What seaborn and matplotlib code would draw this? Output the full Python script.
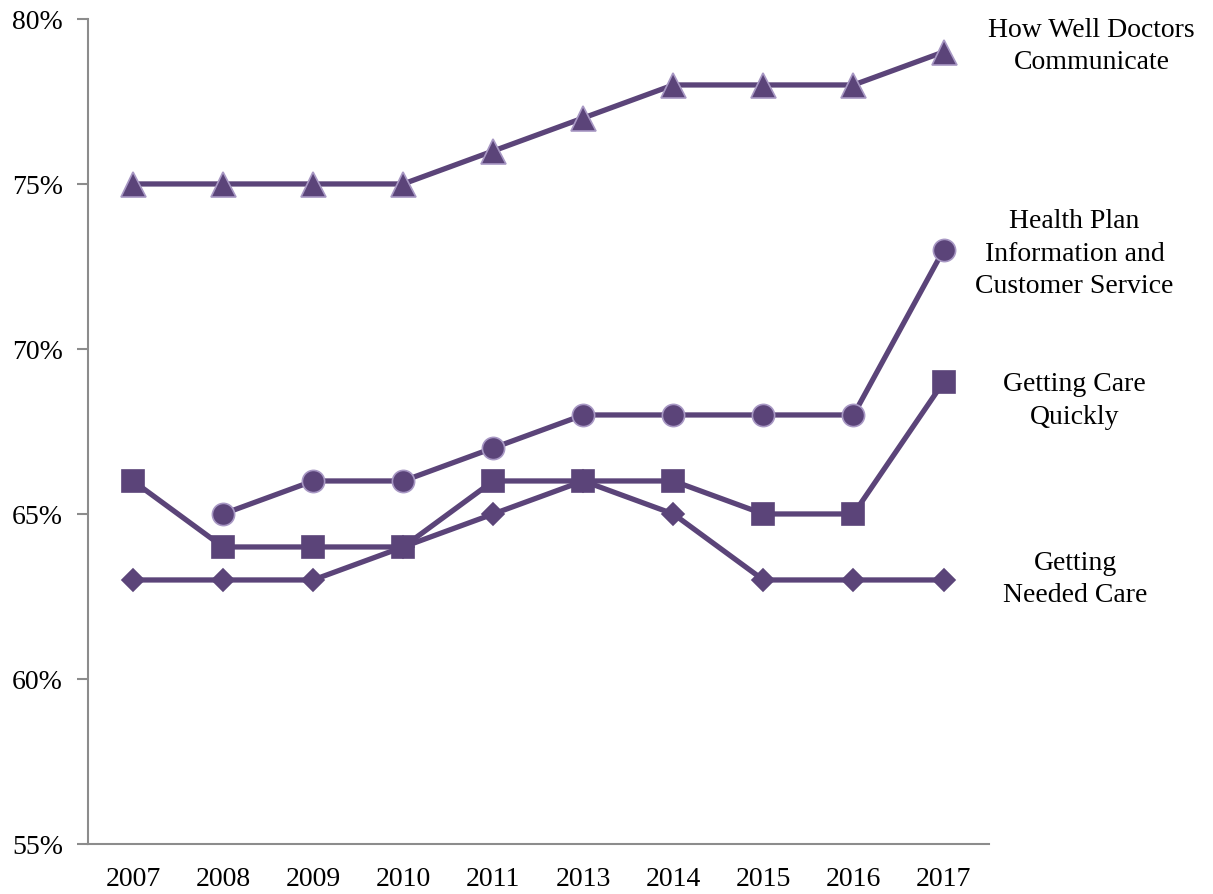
import numpy as np
import pandas as pd
import matplotlib
matplotlib.use("Agg")
import matplotlib.pyplot as plt
import seaborn as sns

years = ["2007", "2008", "2009", "2010", "2011", "2013", "2014", "2015", "2016", "2017"]
doctors = [75, 75, 75, 75, 76, 77, 78, 78, 78, 79]
health_plan = [np.nan, 65, 66, 66, 67, 68, 68, 68, 68, 73]
care_quickly = [66, 64, 64, 64, 66, 66, 66, 65, 65, 69]
needed_care = [63, 63, 63, 64, 65, 66, 65, 63, 63, 63]

labels = ["How Well Doctors\nCommunicate",
          "Health Plan\nInformation and\nCustomer Service",
          "Getting Care\nQuickly",
          "Getting\nNeeded Care"]

sns.set_theme(style="white")
plt.rcParams['font.family'] = ['Liberation Serif', 'DejaVu Serif']

purple = "#5B4479"
edge = "#A898C4"

fig = plt.figure(figsize=(12.13, 8.95), dpi=100)
ax = fig.add_axes([0.0725, 0.0559, 0.7425, 0.9218])

pos = np.arange(len(years))
series = [
    (needed_care, "D", 11, purple),
    (care_quickly, "s", 16, purple),
    (health_plan, "o", 16, edge),
    (doctors, "^", 18, edge),
]
for vals, mk, ms, ec in series:
    df = pd.DataFrame({"x": pos, "y": vals})
    sns.lineplot(data=df, x="x", y="y", ax=ax, color=purple, linewidth=3.8,
                 marker=mk, markersize=ms, markeredgecolor=ec,
                 markeredgewidth=1.2, markerfacecolor=purple)

ax.set_xlim(-0.5, len(years) - 0.5)
ax.set_ylim(55, 80)
ax.set_xticks(pos)
ax.set_xticklabels(years)
ax.set_yticks([55, 60, 65, 70, 75, 80])
ax.set_yticklabels([f"{v}%" for v in [55, 60, 65, 70, 75, 80]])
ax.set_xlabel("")
ax.set_ylabel("")
for s in ["top", "right"]:
    ax.spines[s].set_visible(False)
for s in ["left", "bottom"]:
    ax.spines[s].set_color("#8C8C8C")
    ax.spines[s].set_linewidth(1.5)
ax.tick_params(axis="y", which="both", left=True, length=8, width=1.5,
               color="#8C8C8C", labelsize=20, pad=10)
ax.tick_params(axis="x", bottom=False, labelsize=20, pad=10)
for lab in ax.get_xticklabels() + ax.get_yticklabels():
    lab.set_color("black")

ends = [doctors[-1], health_plan[-1], care_quickly[-1], needed_care[-1]]
offsets = [0.2, -0.1, -0.55, 0.05]
xcent = [1092, 1075, 1075, 1076]
for lab, yv, off, xc in zip(labels, ends, offsets, xcent):
    ax.annotate(lab, xy=(1.0, yv + off), xycoords=("axes fraction", "data"),
                xytext=(xc - 989, 0), textcoords="offset pixels",
                ha="center", va="center", fontsize=20, color="black",
                linespacing=1.4, annotation_clip=False)

fig.savefig("out.png", dpi=100)
